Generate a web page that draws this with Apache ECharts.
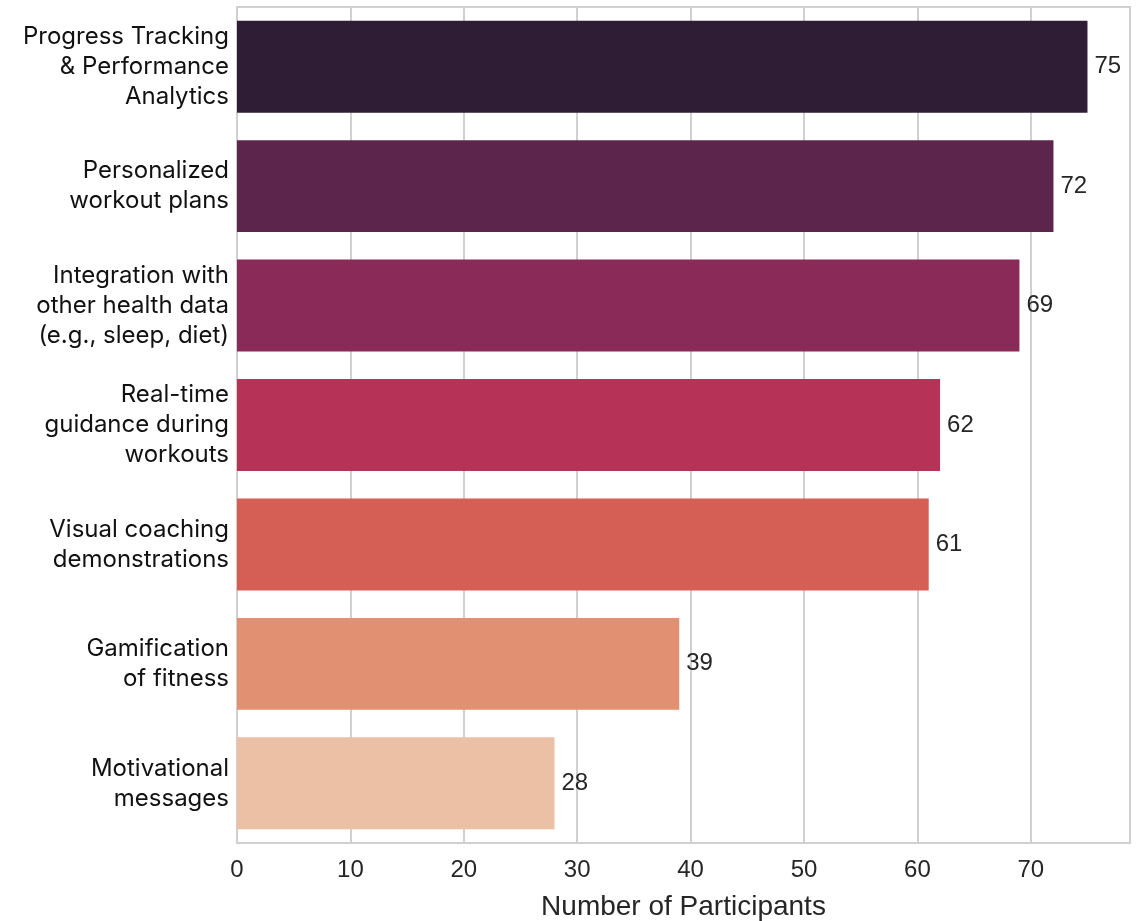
<!DOCTYPE html>
<html>
<head>
<meta charset="utf-8">
<script src="https://cdn.jsdelivr.net/npm/echarts@6/dist/echarts.min.js"></script>
<style>
  html, body { margin: 0; padding: 0; background: #fff; }
  #chart { width: 1145px; height: 921px; }
</style>
</head>
<body>
<div id="chart"></div>
<script>
// feature labels, top to bottom
var features = [
    'Progress Tracking\n& Performance\nAnalytics',
    'Personalized\nworkout plans',
    'Integration with\nother health data\n(e.g., sleep, diet)',
    'Real-time\nguidance during\nworkouts',
    'Visual coaching\ndemonstrations',
    'Gamification\nof fitness',
    'Motivational\nmessages'
];
var participants = [75, 72, 69, 62, 61, 39, 28];
var barColors = ['#2f1d36', '#5c264c', '#892a58', '#b63257', '#d65f55', '#e19172', '#ebc0a5'];

var chart = echarts.init(document.getElementById('chart'));

var option = {
    animation: false,
    grid: {
        left: 237,
        right: 15,
        top: 7,
        bottom: 78,
        show: true,
        borderColor: '#d0d0d0',
        borderWidth: 2,
        containLabel: false,
        outerBoundsMode: 'none'
    },
    xAxis: {
        type: 'value',
        min: 0,
        max: 78.75,
        interval: 10,
        name: 'Number of Participants',
        nameLocation: 'middle',
        nameGap: 50,
        nameTextStyle: { fontFamily: 'Liberation Sans', fontSize: 28, color: '#262626' },
        axisLine: { show: false },
        axisTick: { show: false },
        axisLabel: {
            fontFamily: 'Liberation Sans',
            fontSize: 24,
            color: '#262626',
            margin: 15,
            showMaxLabel: false
        },
        splitLine: { show: true, lineStyle: { color: '#d0d0d0', width: 2 } }
    },
    yAxis: {
        type: 'category',
        inverse: true,
        data: features,
        axisLine: { show: false },
        axisTick: { show: false },
        splitLine: { show: false },
        axisLabel: {
            fontFamily: 'Inter',
            fontSize: 24,
            lineHeight: 30,
            color: '#111',
            align: 'right',
            margin: 8
        }
    },
    series: [{
        type: 'bar',
        data: participants.map(function (v, i) {
            return { value: v, itemStyle: { color: barColors[i] } };
        }),
        barCategoryGap: '23%',
        label: {
            show: true,
            position: 'right',
            distance: 7,
            fontFamily: 'Liberation Sans',
            fontSize: 24,
            color: '#262626'
        }
    }]
};

chart.setOption(option);
</script>
</body>
</html>
